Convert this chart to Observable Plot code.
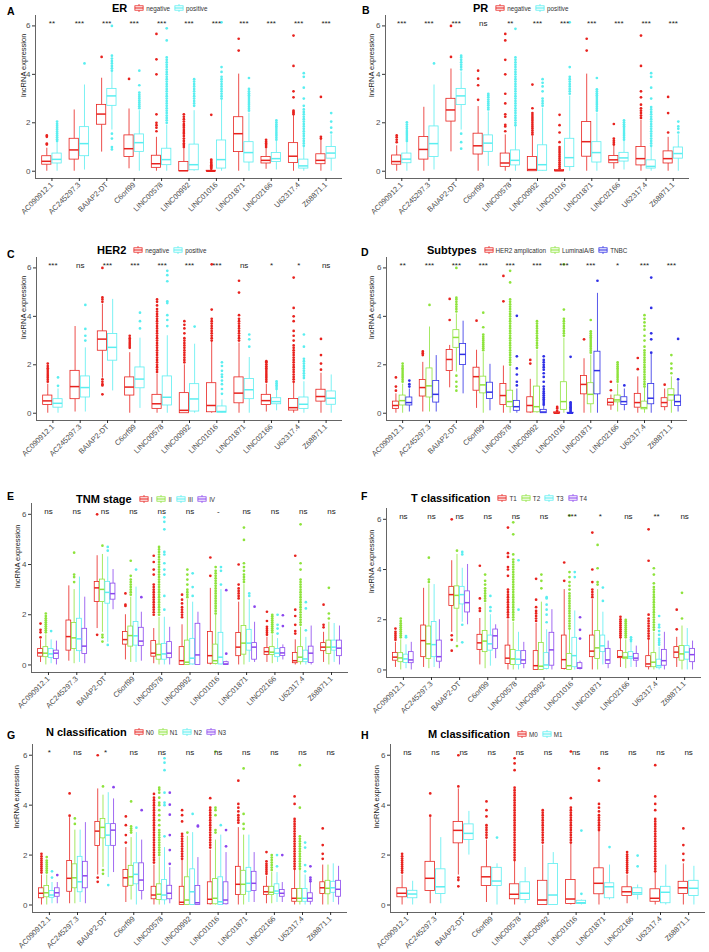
<!DOCTYPE html>
<html><head><meta charset="utf-8">
<script src="https://cdn.jsdelivr.net/npm/d3@7"></script>
<script src="https://cdn.jsdelivr.net/npm/@observablehq/plot@0.6"></script>
<style>
body{margin:0;background:#fff;font-family:"Liberation Sans",Arial,sans-serif;}
#fig{position:relative;width:709px;height:952px;overflow:hidden;background:#fff;}
.pw{position:absolute;}
.letter{position:absolute;font-weight:bold;font-size:10.5px;line-height:1;color:#000;}
.hdr{position:absolute;display:flex;align-items:center;height:12px;white-space:nowrap;}
.ttl{font-weight:bold;font-size:11px;color:#000;margin-right:7px;}
.key{display:flex;align-items:center;margin-right:4px;font-size:6.3px;color:#333;}
.key svg{margin-right:2px;}
</style></head>
<body><div id="fig"></div>
<script>
const genes = ["AC090912.1","AC245297.3","BAIAP2-DT","C6orf99","LINC00578","LINC00992","LINC01016","LINC01871","LINC02166","U62317.4","Z68871.1"];
const yTicks = [0, 2, 4, 6];

// each row: [lower whisker, Q1, median, Q3, upper whisker]
// ---- A: ER
const erNeg = [[0,0.27,0.41,0.62,0.95],[0,0.48,0.88,1.34,2.53],[0.79,1.92,2.36,2.74,3.84],[0.1,0.59,0.93,1.48,2.57],[0,0.14,0.31,0.64,1.4],[0,0,0.02,0.38,0.95],[0,0,0,0.02,0.05],[0,0.79,1.55,2.23,4.01],[0.08,0.32,0.45,0.59,0.95],[0,0.34,0.62,1.16,2.3],[0,0.29,0.45,0.7,1.3]];
const erNegOut = [[1.1,1.14,1.42,1.48],[],[4.72],[3.81],[1.65,1.8,1.9,2.0,2.35,4.0,4.62,5.67],[1.0,1.08,1.15,1.25,1.35,1.45,1.55,1.62,1.7,1.8,1.88,1.95,2.05,2.15,2.25,2.35],[0.1,0.15,0.2,0.25,0.3,0.36,0.42,0.48,2.33],[4.98,5.47],[1.0,1.08,1.15,1.22,1.3],[2.35,2.4,2.45,2.5,3.05,3.3,4.35,5.6],[1.35,1.42,3.07]];
const erPos = [[0,0.32,0.49,0.73,1.2],[0.05,0.62,1.14,1.82,3.56],[1.7,2.7,3.11,3.4,4.08],[0,0.8,1.18,1.52,2.5],[0,0.25,0.48,0.93,1.9],[0,0.04,0.27,1.1,2.5],[0,0.11,0.48,1.27,2.95],[0,0.36,0.77,1.2,2.4],[0.05,0.38,0.52,0.75,1.25],[0,0.11,0.22,0.48,1.0],[0,0.52,0.75,1.0,1.5]];
const erPosOut = [[1.25,1.32,1.4,1.48,1.56,1.64,1.72,1.8,1.88,1.96,2.05],[4.45],[4.15,4.25,4.35,4.45,4.55,4.65,4.77,6.0,1.55,1.35,1.0,0.9],[2.6,2.68,2.76,2.84,2.92,3.0,3.08,3.16,3.25,3.55,4.15],[2.0,2.1,2.2,2.3,2.4,2.5,2.6,2.7,2.8,2.9,3.0,3.1,3.2,3.3,3.4,3.5,3.6,3.7,3.8,3.9,4.0,4.1,4.2,4.3,4.4,4.5,4.6,4.7,5.4,5.9],[2.7,2.8,2.9,3.0,3.1,3.2,3.3,3.4,3.5,3.6,3.7,3.8],[3.0,3.1,3.2,3.3,3.4,3.5,3.6,3.7,3.8,3.9,4.1,4.3,6.15],[2.5,2.58,2.66,2.74,2.82,2.9,2.98,3.06,3.14,3.22,3.3,3.4,3.85],[1.3,1.38,1.46,1.54,1.62,1.7,1.78,1.86,1.94,2.02,2.1],[1.05,1.15,1.25,1.35,1.45,1.55,1.65,1.75,1.85,1.95,2.05,2.15,2.25,2.35,2.45,2.55,2.7,3.0,3.45,3.9,4.05],[1.6,1.8,2.05,2.4]];
const sigA = ["**","***","***","***","***","***","***","***","***","***","***"];

// ---- B: PR
const prNeg = [[0,0.27,0.4,0.65,1.05],[0,0.48,0.9,1.41,2.64],[0.8,2.05,2.53,2.99,4.22],[0,0.69,1.05,1.55,2.67],[0,0.18,0.34,0.73,1.5],[0,0,0.07,0.59,1.45],[0,0,0.02,0.05,0.1],[0,0.6,1.22,2.03,4.01],[0.08,0.33,0.47,0.63,1.05],[0,0.24,0.52,1.0,2.1],[0,0.32,0.52,0.82,1.4]];
const prNegOut = [[1.2,1.3,1.4,1.48],[],[4.72,6.0],[2.95,3.55,3.82,4.15],[1.65,1.85,1.92,2.25,2.35,2.8,3.2,4.0,4.6,5.4,5.67],[1.52,1.6,1.68,1.76,1.84,1.92,2.0,2.08,2.16,2.24,2.32,2.4,2.6,3.58],[0.12,0.2,0.28,0.36,0.44,0.52,0.6,0.68,0.76,0.84,0.92,1.0,1.2,1.6,1.9,2.33],[4.98,5.47],[1.1,1.18,1.26,1.35,1.95],[2.2,2.3,2.4,2.5,2.6,2.75,3.05,3.3,4.35,5.6],[1.6,2.4,3.07]];
const prPos = [[0,0.33,0.5,0.73,1.2],[0.05,0.59,1.14,1.85,3.56],[1.7,2.73,3.11,3.4,4.1],[0.2,0.8,1.16,1.48,2.45],[0,0.24,0.45,0.86,1.85],[0,0.02,0.27,1.07,2.6],[0,0.17,0.56,1.34,3.1],[0,0.36,0.77,1.2,2.4],[0.05,0.4,0.55,0.76,1.25],[0,0.11,0.2,0.45,1.0],[0,0.52,0.73,0.98,1.5]];
const prPosOut = [[1.25,1.33,1.41,1.5,1.58,1.66,1.75,1.84,1.93,2.02],[4.45],[4.2,4.3,4.4,4.5,4.6,4.7,4.77,1.55,1.2,0.93],[2.55,2.63,2.72,2.8,2.88,2.96,3.05,3.13,3.2],[1.9,2.0,2.1,2.2,2.3,2.4,2.5,2.6,2.7,2.8,2.9,3.0,3.1,3.2,3.3,3.4,3.5,3.6,3.7,3.8,3.9,4.0,4.1,4.2,4.3,4.4,4.5,4.6,4.7,5.88],[2.7,2.8,2.9,3.0,3.3,3.5,3.65,3.8],[3.2,3.3,3.4,3.5,3.6,3.7,3.8,3.9,4.3,6.15],[2.5,2.58,2.66,2.74,2.82,2.9,2.98,3.06,3.14,3.22,3.3,3.38,3.85],[1.3,1.38,1.46,1.54,1.62,1.7,1.78,1.86,1.94,2.02,2.1],[1.05,1.15,1.25,1.35,1.45,1.55,1.65,1.75,1.85,1.95,2.05,2.15,2.25,2.35,2.45,2.55,2.65,3.0,3.45,3.9,4.05],[1.6,1.75,1.85,2.05]];
const sigB = ["***","***","***","ns","**","***","***","***","***","***","***"];

// ---- C: HER2
const her2Neg = [[0,0.34,0.51,0.73,1.2],[0.05,0.58,1.1,1.75,3.58],[1.45,2.58,3.06,3.38,4.5],[0,0.73,1.08,1.48,2.5],[0,0.18,0.39,0.76,1.6],[0,0,0.12,0.83,2.0],[0,0.04,0.32,1.24,2.95],[0,0.41,0.83,1.48,2.9],[0.05,0.34,0.52,0.76,1.2],[0,0.11,0.23,0.59,1.25],[0,0.48,0.69,0.97,1.65]];
const her2NegOut = [[1.3,1.38,1.46,1.54,1.62,1.7,1.78,1.86,1.95,2.05],[],[4.6,4.7,4.78,6.0,1.4,1.3,1.2,1.15,0.78],[2.7,2.78,2.86,2.94,3.02,3.1,3.2],[1.7,1.8,1.9,2.0,2.1,2.2,2.3,2.4,2.5,2.6,2.7,2.8,2.9,3.0,3.1,3.2,3.3,3.4,3.5,3.6,3.7,3.8,3.9,4.0,4.1,4.2,4.3,4.45,4.6,4.7],[2.1,2.2,2.3,2.4,2.5,2.6,2.7,2.8,2.9,3.0,3.1,3.3,3.5,3.65,3.8],[3.0,3.1,3.2,3.3,3.4,3.5,3.6,3.7,3.8,3.9,4.28,6.15],[3.0,3.1,3.2,3.3,3.4,3.5,3.6,3.7,3.8,3.9,4.05,4.98,5.47],[1.3,1.38,1.46,1.54,1.62,1.7,1.78,1.86,1.94,2.02,2.1,2.15],[1.3,1.4,1.5,1.6,1.7,1.8,1.9,2.0,2.1,2.2,2.3,2.4,2.5,2.6,2.7,2.8,3.0,3.2,3.4,3.8,4.0,4.35,5.6],[1.8,2.05,2.4,3.07]];
const her2Pos = [[0,0.23,0.41,0.58,1.0],[0.05,0.65,1.06,1.52,2.7],[0.92,2.17,2.72,3.27,4.7],[0.2,1.03,1.41,1.89,3.1],[0,0.32,0.66,1.52,3.2],[0,0.07,0.59,1.2,2.85],[0,0.02,0.07,0.28,0.55],[0,0.58,0.97,1.41,2.3],[0.1,0.37,0.48,0.62,0.95],[0,0.18,0.37,0.65,1.3],[0,0.35,0.62,0.9,1.58]];
const her2PosOut = [[1.13,1.48],[3.0,3.2,3.48,4.47],[],[3.5,3.8,4.15],[3.6,3.85,4.05,4.55,4.62,5.45,5.7,5.88],[3.58],[0.8,1.0,1.2,1.35,1.5,1.6,1.75,1.95,2.1],[2.75,3.05,3.25],[1.0,1.08,1.16,1.24,1.32],[1.45,1.55,1.65,1.75,1.85,1.95,2.05,2.15,2.25,2.75,3.25],[]];
const sigC = ["***","ns","***","***","***","***","***","ns","*","*","ns"];

// ---- D: Subtypes
const subHer2 = [[0,0.18,0.32,0.48,0.8],[0.05,0.69,1.06,1.37,2.1],[1.05,1.74,2.22,2.61,2.8],[0.2,0.93,1.51,1.88,2.6],[0,0.34,0.73,1.21,1.95],[0,0.03,0.32,0.66,1.4],[0,0,0,0.04,0.05],[0,0.78,1.19,1.54,2.25],[0.12,0.32,0.45,0.58,0.75],[0,0.23,0.44,0.8,1.5],[0.1,0.25,0.44,0.62,1.0]];
const subHer2Out = [[0.93,1.1,1.48],[2.4,2.48,2.55],[3.85,4.72],[3.82],[4.62,5.67],[2.05,2.2],[0.1,0.2,0.26],[3.05],[0.95,1.3],[1.82,2.28],[1.18]];
const subLum = [[0,0.32,0.52,0.73,1.2],[0.05,0.65,1.13,1.85,3.56],[1.7,2.7,3.13,3.43,4.1],[0,0.82,1.17,1.51,2.5],[0,0.25,0.48,0.93,1.9],[0,0.04,0.27,1.1,2.6],[0,0.14,0.48,1.28,3.1],[0,0.37,0.78,1.24,2.4],[0.05,0.45,0.55,0.73,1.2],[0,0.16,0.23,0.48,1.05],[0,0.52,0.76,0.99,1.5]];
const subLumOut = [[1.3,1.38,1.46,1.54,1.62,1.7,1.78,1.86,1.95,2.05],[4.47],[4.2,4.3,4.4,4.5,4.6,4.7,4.77,6.0,1.55,1.3,1.1,0.93],[2.6,2.68,2.76,2.84,2.92,3.0,3.08,3.16,3.25,3.55,4.15],[2.0,2.1,2.2,2.3,2.4,2.5,2.6,2.7,2.8,2.9,3.0,3.1,3.2,3.3,3.4,3.5,3.6,3.7,3.8,3.9,4.0,4.1,4.2,4.3,4.4,4.5,4.6,4.7,5.4,5.88],[2.7,2.8,2.9,3.0,3.1,3.2,3.3,3.4,3.5,3.6,3.7,3.8],[3.2,3.3,3.4,3.5,3.6,3.7,3.8,3.9,4.28,6.15],[2.5,2.58,2.66,2.74,2.82,2.9,2.98,3.06,3.14,3.22,3.3,3.38,3.85],[1.3,1.38,1.46,1.54,1.62,1.7,1.78,1.86,1.94,2.02,2.1],[1.1,1.2,1.3,1.4,1.5,1.6,1.7,1.8,1.9,2.0,2.1,2.2,2.3,2.4,2.5,2.6,2.75,3.0,3.2,3.45,3.6,3.75,3.9,4.05],[1.65,1.85,2.05,2.4]];
const subTnbc = [[0.05,0.32,0.44,0.65,1.0],[0.05,0.44,0.78,1.33,2.38],[0.8,1.99,2.43,2.86,3.8],[0.1,0.59,0.87,1.26,2.02],[0,0.1,0.27,0.51,1.0],[0,0,0.05,0.14,0.3],[0,0,0,0.02,0.04],[0,0.78,1.76,2.54,4.95],[0.1,0.34,0.48,0.66,1.0],[0,0.37,0.62,1.21,2.45],[0.05,0.3,0.48,0.73,1.3]];
const subTnbcOut = [[1.1,1.2,1.35],[],[],[],[1.15,1.3,1.6,1.85,2.35,4.02],[0.35,0.42,0.5,0.58,0.66,0.74,0.82,0.9,1.0,1.1,1.3,1.5,1.65,1.8,1.9,2.0,2.1,2.2,2.35],[0.05,0.1,0.15,0.2,0.25,0.3,0.35,0.4,0.45,2.33],[5.47],[1.15],[2.5,3.05,3.3,4.35,5.6],[1.4,3.07]];
const sigD = ["**","***","***","***","***","***","***","***","*","***","***"];

// ---- E: TNM stage
const tnmI = [[0.1,0.33,0.48,0.64,1.0],[0.15,0.57,1.13,1.77,3.15],[1.45,2.51,3.07,3.3,4.35],[0.2,0.81,1.01,1.31,2.0],[0.05,0.33,0.47,0.95,1.45],[0,0,0.17,0.71,1.6],[0,0.05,0.37,1.31,3.05],[0,0.35,0.71,1.27,2.5],[0.1,0.4,0.53,0.67,1.1],[0,0.07,0.17,0.48,1.0],[0.1,0.55,0.71,0.87,1.3]];
const tnmIOut = [[1.1,1.3,1.4,1.65],[],[1.2,6.0],[2.35,2.4,2.85],[2.0,2.1,2.2,2.3,2.4,2.5,2.6,2.7,2.8,2.9,3.0,3.1,3.2,3.6,3.8,4.1,4.35],[1.9,2.0,2.1,2.2,2.3,2.45,2.6,2.8],[3.55,4.28],[2.65,2.75,2.85,2.95,3.05,3.2,4.0],[1.2,1.28,1.36,1.44,1.52,1.75,2.12],[1.25,1.35,1.6,1.95,2.2,4.35],[1.5,1.6,2.4]];
const tnmII = [[0,0.31,0.47,0.71,1.2],[0.05,0.64,1.08,1.67,3.0],[1.3,2.51,3.01,3.4,4.4],[0.1,0.73,1.17,1.53,2.7],[0,0.21,0.41,0.81,1.9],[0,0,0.11,0.97,2.6],[0,0.04,0.17,0.81,2.0],[0,0.41,0.87,1.55,3.2],[0.05,0.4,0.51,0.71,1.2],[0,0.11,0.31,0.71,1.5],[0,0.44,0.71,0.97,1.7]];
const tnmIIOut = [[1.3,1.38,1.46,1.54,1.62,1.7,1.78,1.86,1.95,2.05],[3.3,3.5,3.6,4.47],[4.75,1.2,1.1,0.93],[2.8,2.9,3.0,3.1,3.2,3.3,3.4,3.55,4.15],[2.0,2.1,2.2,2.3,2.4,2.5,2.6,2.7,2.8,2.9,3.0,3.1,3.2,3.3,3.4,3.5,3.6,3.7,3.8,3.9,4.0,4.1,4.2,4.3,4.4,4.5,4.6,4.7],[2.7,2.8,2.9,3.0,3.2,3.4,3.6,3.8],[2.05,2.15,2.25,2.35,2.45,2.55,2.65,2.75,2.85,2.95,3.05,3.15,3.25,3.35,3.45,3.55,3.65,3.75,3.9],[3.3,3.4,3.5,3.6,3.75,3.9,4.05,4.98,5.47],[1.3,1.38,1.46,1.54,1.62,1.7,1.78,1.86,1.94,2.0],[1.6,1.7,1.8,1.9,2.0,2.1,2.2,2.3,2.4,2.5,2.6,2.7,2.8,2.9,3.0,3.1,3.2,3.3,3.4,3.8,4.05,5.6],[1.85,2.05,3.07]];
const tnmIII = [[0.05,0.28,0.44,0.64,1.0],[0.1,0.55,1.04,1.84,3.5],[0.9,2.44,2.89,3.31,4.3],[0.1,0.77,1.16,1.71,3.1],[0,0.21,0.44,0.84,1.9],[0,0.02,0.27,1.04,2.5],[0,0.02,0.31,1.28,3.0],[0.1,0.57,0.87,1.4,2.6],[0.1,0.31,0.47,0.64,1.05],[0,0.11,0.24,0.57,1.1],[0.1,0.57,0.71,0.97,1.65]];
const tnmIIIOut = [[1.35],[],[4.55,4.7,0.8],[3.8],[2.2,2.75,3.6,3.8,4.05,4.4,4.5,5.4,5.7,5.88],[2.75,3.1,3.65],[3.2,3.75,3.9],[2.75,2.85],[1.25,1.45,1.6,2.0],[1.38,2.25,2.5],[]];
const tnmIV = [[0,0.24,0.47,0.57,0.95],[0.05,0.44,0.75,1.44,2.7],[2.2,2.6,2.84,3.24,3.8],[0.15,0.75,0.95,1.48,2.1],[0,0.27,0.47,0.91,1.5],[0,0,0.4,1.64,2.1],[0,0,0.04,0.11,0.15],[0.1,0.21,0.71,0.87,1.7],[0.2,0.36,0.48,0.67,0.8],[0,0.08,0.47,0.73,1.55],[0,0.35,0.67,0.97,1.55]];
const tnmIVOut = [[],[],[],[2.7],[],[],[0.45,2.98],[2.32],[1.55,1.98],[],[]];
const sigE = ["ns","ns","ns","ns","ns","ns","-","ns","ns","ns","ns"];

// ---- F: T classification
const tT1 = [[0.1,0.37,0.51,0.68,1.1],[0.1,0.51,1.17,1.77,3.25],[1.5,2.55,3.0,3.31,4.35],[0.2,0.8,1.08,1.4,2.05],[0,0.24,0.47,0.97,2.0],[0,0,0.17,0.75,1.85],[0,0.04,0.41,1.37,3.2],[0,0.51,0.75,1.37,2.8],[0.1,0.47,0.53,0.75,1.25],[0,0.11,0.24,0.55,1.2],[0.1,0.47,0.71,0.91,1.3]];
const tT1Out = [[1.2,1.28,1.36,1.44,1.52,1.65],[],[1.38,1.2,0.77,6.0],[2.35,2.45,2.85,4.15],[2.1,2.2,2.3,2.4,2.5,2.6,2.7,2.8,2.9,3.0,3.1,3.2,3.75,4.0,4.1,4.5,4.65,5.67],[1.95,2.05,2.15,2.25,2.35,2.5,2.8,3.63],[3.55,4.28],[2.9,3.0,3.1,3.2,3.5,4.0,5.47],[1.3,1.38,1.46,1.54,1.62,1.7,1.78,1.86,1.94,2.02,2.12],[1.25,1.35,1.45,1.55,1.65,1.75,1.85,1.95,2.05,2.2,4.35,5.6],[1.62,2.4]];
const tT2 = [[0,0.31,0.48,0.67,1.2],[0.05,0.44,1.04,1.73,3.4],[1.1,2.44,2.97,3.33,4.6],[0.05,0.71,1.15,1.55,2.65],[0,0.2,0.44,0.8,1.9],[0,0,0.15,1.07,2.7],[0,0,0.17,0.64,1.6],[0,0.44,0.88,1.55,3.2],[0.05,0.43,0.51,0.67,1.2],[0,0.11,0.31,0.67,1.5],[0,0.37,0.64,0.95,1.75]];
const tT2Out = [[1.3,1.38,1.46,1.54,1.62,1.7,1.78,1.86,1.95,2.05],[3.5,3.6,4.47],[4.75,0.95],[2.75,2.85,2.95,3.05,3.15,3.25,3.4,3.55,3.8],[2.0,2.1,2.2,2.3,2.4,2.5,2.6,2.7,2.8,2.9,3.0,3.1,3.2,3.3,3.4,3.5,3.6,3.7,3.8,3.9,4.0,4.1,4.2,4.3,4.4,4.6,5.4,5.88],[3.25,3.55,3.8],[1.65,1.75,1.85,1.95,2.05,2.15,2.25,2.35,2.45,2.55,2.65,2.75,2.85,2.95,3.05,3.2,3.35,3.5,3.7,3.9,6.15],[3.4,3.5,4.05,4.98],[1.3,1.38,1.46,1.54,1.62,1.7,1.78,1.86,1.94,2.0],[1.6,1.7,1.8,1.9,2.0,2.1,2.2,2.3,2.4,2.5,2.6,2.7,2.8,2.9,3.0,3.1,3.2,3.3,3.45,3.8,4.05],[2.05,3.07]];
const tT3 = [[0.05,0.28,0.44,0.61,1.0],[0.1,0.51,1.01,1.91,3.4],[1.9,2.61,3.0,3.31,4.05],[0.15,0.77,1.04,1.37,2.2],[0,0.2,0.43,0.75,1.5],[0,0.04,0.2,0.67,1.6],[0,0.11,0.57,1.28,2.35],[0.2,0.71,0.96,1.37,2.3],[0.1,0.44,0.53,0.71,1.1],[0,0.07,0.17,0.41,0.9],[0,0.41,0.71,0.95,1.65]];
const tT3Out = [[1.3,1.35],[],[4.6,4.7,1.8,1.1],[2.35,2.5,2.95],[2.4,4.37],[1.9,2.2,2.4,2.6,2.85,2.9],[3.7,3.9],[2.75,3.28],[1.15,1.22,1.3],[1.0,1.08,1.16,1.24,1.4,1.55,1.7,1.8,2.15],[]];
const tT4 = [[0,0.27,0.4,0.71,1.1],[0.05,0.33,0.53,1.17,2.0],[1.8,2.29,2.68,3.13,4.2],[0.45,0.84,1.36,1.61,1.8],[0.05,0.24,0.4,0.75,1.1],[0,0.17,0.8,1.48,2.4],[0,0.04,0.08,0.27,0.35],[0.05,0.24,0.4,0.84,1.15],[0.1,0.37,0.47,0.64,0.95],[0,0.17,0.37,0.8,1.5],[0,0.31,0.61,0.84,1.15]];
const tT4Out = [[],[],[],[],[],[],[1.25,1.6,2.1],[],[],[],[]];
const sigF = ["ns","ns","ns","ns","ns","ns","***","*","ns","**","ns"];

// ---- G: N classification
const nN0 = [[0,0.27,0.47,0.67,1.2],[0.05,0.53,1.07,1.76,3.5],[1.2,2.36,2.96,3.33,4.65],[0.1,0.73,1.09,1.4,2.3],[0,0.23,0.4,0.73,1.6],[0,0,0.11,0.73,1.8],[0,0.03,0.23,0.91,2.2],[0,0.4,0.83,1.53,3.1],[0.05,0.4,0.53,0.73,1.15],[0,0.13,0.27,0.64,1.4],[0,0.44,0.69,0.91,1.6]];
const nN0Out = [[1.3,1.38,1.46,1.54,1.62,1.7,1.78,1.86,1.95,2.05],[3.58,4.47],[1.1,0.93,6.0],[2.5,2.8,3.2,3.55],[1.7,1.8,1.9,2.0,2.1,2.2,2.3,2.4,2.5,2.6,2.7,2.8,2.9,3.0,3.1,3.2,3.3,3.4,3.5,3.6,3.7,3.8,3.9,4.0,4.1,4.2,4.3,4.45],[1.85,1.95,2.05,2.15,2.25,2.35,2.45,2.55,2.65,2.75,2.85,3.35,3.6,3.8],[2.3,2.4,2.5,2.6,2.7,2.8,2.9,3.0,3.1,3.2,3.3,3.4,3.5,3.6,3.7,3.8,3.9,4.28],[3.3,3.4,3.5,3.6,3.75,3.9,4.05,4.98],[1.25,1.33,1.41,1.49,1.57,1.65,1.75,2.12],[1.45,1.55,1.65,1.75,1.85,1.95,2.05,2.15,2.25,2.35,2.45,2.55,2.65,2.75,2.85,2.95,3.05,3.15,3.25,3.35,3.45,4.05,4.35],[1.85,2.05,2.4,3.07]];
const nN1 = [[0,0.31,0.49,0.76,1.2],[0.05,0.67,1.09,1.63,3.0],[1.5,2.67,3.11,3.45,4.4],[0.2,0.77,1.13,1.57,2.7],[0,0.2,0.43,0.83,1.9],[0,0,0.2,1.11,2.75],[0,0.03,0.27,1.04,2.6],[0,0.4,0.83,1.37,2.8],[0.05,0.4,0.51,0.73,1.3],[0,0.13,0.27,0.64,1.4],[0,0.43,0.67,0.97,1.6]];
const nN1Out = [[1.3,1.38,1.46,1.54,1.62,1.7,1.78,1.92],[3.25,3.47],[4.75,1.4,1.25],[2.9,2.98,3.06,3.15,4.15],[2.0,2.1,2.2,2.3,2.4,2.5,2.6,2.7,2.8,2.9,3.0,3.2,3.4,3.6,3.8,4.0,4.1,4.3,4.5,4.62,4.7],[2.9],[2.9,3.0,3.6,3.8,3.9,6.15],[3.05,3.25,3.65,5.47],[1.4,1.5,1.6,1.7,1.8,1.9,2.0],[1.45,1.55,1.65,1.75,1.85,1.95,2.05,2.15,2.25,2.35,2.45,2.55,2.65,2.75,3.9,5.6],[]];
const nN2 = [[0.05,0.29,0.4,0.56,0.9],[0.1,0.51,0.93,1.93,3.0],[1.1,2.37,2.8,3.24,4.5],[0,0.83,1.23,1.67,2.9],[0,0.19,0.4,1.0,2.3],[0,0,0.53,1.43,2.9],[0,0,0.13,1.11,2.8],[0.1,0.53,0.87,1.49,2.8],[0.1,0.44,0.56,0.83,1.3],[0,0.13,0.27,0.64,1.2],[0.1,0.49,0.69,0.93,1.65]];
const nN2Out = [[1.1,1.35],[],[0.8],[3.1],[2.75,4.0,4.1,4.5,5.4,5.7,5.88],[3.65],[3.2],[],[1.55,2.0],[1.35,1.6,2.3,2.5],[]];
const nN3 = [[0.05,0.33,0.49,0.67,0.9],[0.05,0.67,1.17,1.73,3.3],[1.3,2.37,3.0,3.24,4.25],[0.2,0.56,1.0,1.67,2.6],[0.05,0.23,0.47,0.77,1.5],[0,0,0.09,0.76,1.9],[0,0.03,0.2,0.91,2.1],[0.1,0.56,0.87,1.33,2.1],[0.1,0.33,0.47,0.6,0.9],[0,0.13,0.27,0.47,0.9],[0,0.33,0.63,0.97,1.55]];
const nN3Out = [[1.2],[],[4.72],[3.8],[1.65,2.2,2.8,3.62,4.02,4.5],[3.15,3.18],[2.35,3.0],[],[2.0],[0.95,1.02,1.1,1.55],[]];
const sigG = ["*","ns","*","ns","ns","ns","ns","ns","ns","ns","ns"];

// ---- H: M classification
const mM0 = [[0,0.31,0.47,0.67,1.2],[0.05,0.56,1.07,1.73,3.5],[1.2,2.47,2.99,3.33,4.65],[0.1,0.76,1.13,1.51,2.6],[0,0.23,0.43,0.83,1.75],[0,0,0.2,0.97,2.4],[0,0.04,0.24,1.0,2.45],[0,0.43,0.87,1.47,2.95],[0.05,0.36,0.53,0.71,1.2],[0,0.13,0.27,0.63,1.3],[0,0.44,0.69,0.93,1.65]];
const mM0Out = [[1.3,1.38,1.46,1.54,1.62,1.7,1.78,1.86,1.95,2.05],[3.58,4.47],[4.75,6.0,1.1,1.0,0.75],[2.7,2.8,2.9,3.0,3.1,3.2,3.55,3.8,4.15],[1.8,1.9,2.0,2.1,2.2,2.3,2.4,2.5,2.6,2.7,2.8,2.9,3.0,3.1,3.2,3.3,3.4,3.5,3.6,3.7,3.8,3.9,4.0,4.1,4.2,4.3,4.4,4.5,4.6,4.7,5.4,5.67,5.88],[2.5,2.6,2.7,2.8,2.9,3.0,3.1,3.2,3.3,3.4,3.5,3.6,3.7,3.8],[2.5,2.6,2.7,2.8,2.9,3.0,3.1,3.2,3.3,3.4,3.5,3.6,3.7,3.8,3.9,4.28,6.15],[3.0,3.1,3.2,3.3,3.4,3.5,3.6,3.75,3.9,4.05,4.98,5.47],[1.3,1.38,1.46,1.54,1.62,1.7,1.78,1.86,1.94,2.02,2.12],[1.35,1.45,1.55,1.65,1.75,1.85,1.95,2.05,2.15,2.25,2.35,2.45,2.55,2.65,2.75,2.85,2.95,3.05,3.15,3.25,3.35,3.45,3.8,4.05,4.35,5.6],[1.8,2.05,2.4,3.07]];
const mM1 = [[0,0.27,0.44,0.57,0.95],[0.05,0.44,0.73,1.43,2.7],[2.0,2.6,2.87,3.23,3.75],[0,0.76,0.96,1.49,1.65],[0.05,0.2,0.47,0.91,1.5],[0,0,0.4,1.64,2.1],[0,0.04,0.09,0.17,0.2],[0.2,0.27,0.73,0.87,1.6],[0.2,0.4,0.49,0.67,0.8],[0,0.07,0.51,0.73,1.6],[0,0.36,0.67,0.97,1.55]];
const mM1Out = [[],[],[],[2.7],[],[],[0.45,2.98],[2.32],[1.55,1.98],[],[]];
const sigH = ["ns","ns","ns","ns","ns","ns","ns","ns","ns","ns","ns"];

// ---------- styles / layout ----------
const RED = "#E8221E", CYAN = "#5AEEF0", GREEN = "#8EE33C", BLUE = "#2F2FE6", PURPLE = "#8A45EE";
const FONT = "'Liberation Sans', Arial, sans-serif";

const panels = [
  {letter:"A", title:"ER", labels:["negative","positive"], colors:[RED,CYAN], stats:[erNeg,erPos], outs:[erNegOut,erPosOut], sig:sigA,
   L:{left:0,top:0,w:354,h:232,ml:35,mr:12,mt:15,mb:54,ydx:-12,lx:7,ly:7,hx:112,hy:8}},
  {letter:"B", title:"PR", labels:["negative","positive"], colors:[RED,CYAN], stats:[prNeg,prPos], outs:[prNegOut,prPosOut], sig:sigB,
   L:{left:354,top:0,w:355,h:232,ml:31,mr:20,mt:15,mb:54,ydx:-14,lx:362,ly:6,hx:473,hy:8}},
  {letter:"C", title:"HER2", labels:["negative","positive"], colors:[RED,CYAN], stats:[her2Neg,her2Pos], outs:[her2NegOut,her2PosOut], sig:sigC,
   L:{left:0,top:235,w:354,h:232,ml:36,mr:12,mt:22,mb:47,ydx:-13,lx:7,ly:250,hx:97,hy:250}},
  {letter:"D", title:"Subtypes", labels:["HER2 amplication","LuminalA/B","TNBC"], colors:[RED,GREEN,BLUE], stats:[subHer2,subLum,subTnbc], outs:[subHer2Out,subLumOut,subTnbcOut], sig:sigD,
   L:{left:354,top:235,w:355,h:232,ml:32,mr:22,mt:22,mb:47,ydx:-15,lx:361,ly:248,hx:427,hy:250}},
  {letter:"E", title:"TNM stage", labels:["I","II","III","IV"], colors:[RED,GREEN,CYAN,PURPLE], stats:[tnmI,tnmII,tnmIII,tnmIV], outs:[tnmIOut,tnmIIOut,tnmIIIOut,tnmIVOut], sig:sigE,
   L:{left:0,top:480,w:354,h:232,ml:31,mr:6,mt:23,mb:40,ydx:-14,lx:7,ly:492,hx:76,hy:499}},
  {letter:"F", title:"T classification", labels:["T1","T2","T3","T4"], colors:[RED,GREEN,CYAN,PURPLE], stats:[tT1,tT2,tT3,tT4], outs:[tT1Out,tT2Out,tT3Out,tT4Out], sig:sigF,
   L:{left:354,top:480,w:355,h:232,ml:32,mr:8,mt:28,mb:35,ydx:-15,lx:361,ly:492,hx:411,hy:498}},
  {letter:"G", title:"N classification", labels:["N0","N1","N2","N3"], colors:[RED,GREEN,CYAN,PURPLE], stats:[nN0,nN1,nN2,nN3], outs:[nN0Out,nN1Out,nN2Out,nN3Out], sig:sigG,
   L:{left:0,top:715,w:354,h:237,ml:32,mr:7,mt:29,mb:40,ydx:-16,lx:7,ly:731,hx:46,hy:732}},
  {letter:"H", title:"M classification", labels:["M0","M1"], colors:[RED,CYAN], stats:[mM0,mM1], outs:[mM0Out,mM1Out], sig:sigH,
   L:{left:354,top:715,w:355,h:237,ml:36,mr:4,mt:29,mb:40,ydx:-14,lx:361,ly:731,hx:428,hy:734}}
];

const fig = document.getElementById("fig");
const tickVals = genes.map((g, i) => i + 1);

function keySvg(color) {
  return `<svg width="10" height="8" viewBox="0 0 10 8"><line x1="5" y1="0" x2="5" y2="1.8" stroke="${color}" stroke-width="0.8"/><line x1="5" y1="6.2" x2="5" y2="8" stroke="${color}" stroke-width="0.8"/><rect x="0.9" y="1.8" width="8.2" height="4.4" fill="white" stroke="${color}" stroke-width="0.8"/><line x1="0.9" y1="4" x2="9.1" y2="4" stroke="${color}" stroke-width="1.1"/></svg>`;
}

for (const p of panels) {
  const L = p.L;
  const n = p.stats.length, slot = 0.75 / n;
  const boxes = [], outs = [];
  p.stats.forEach((st, gi) => st.forEach((s, i) => {
    const xc = i + 1 - 0.375 + (gi + 0.5) * slot;
    boxes.push({xc, x1: xc - slot * 0.45, x2: xc + slot * 0.45, lo: s[0], q1: s[1], med: s[2], q3: s[3], hi: s[4], c: p.colors[gi]});
    p.outs[gi][i].forEach(v => outs.push({xc, v, c: p.colors[gi]}));
  }));
  const sigData = p.sig.map((s, i) => ({x: i + 1, y: 6.1, s}));

  const svg = Plot.plot({
    width: L.w, height: L.h,
    marginLeft: L.ml, marginRight: L.mr, marginTop: L.mt, marginBottom: L.mb,
    style: {fontFamily: FONT, background: "transparent", overflow: "visible"},
    x: {type: "linear", domain: [0.4, 11.6]},
    y: {domain: [-0.3, 6.43]},
    color: {type: "identity"},
    marks: [
      Plot.axisX({ticks: tickVals, tickFormat: d => genes[d - 1], tickRotate: -45, tickSize: 3, tickPadding: 2, fontSize: 7.5, fill: "#4d4d4d", stroke: "#333", label: null}),
      Plot.axisY({ticks: yTicks, tickFormat: d => String(d), tickSize: 3, tickPadding: 2, fontSize: 8, fill: "#4d4d4d", stroke: "#333", label: null}),
      Plot.ruleX(boxes, {x: "xc", y1: "lo", y2: "q1", stroke: "c", strokeWidth: 0.8}),
      Plot.ruleX(boxes, {x: "xc", y1: "q3", y2: "hi", stroke: "c", strokeWidth: 0.8}),
      Plot.rect(boxes, {x1: "x1", x2: "x2", y1: "q1", y2: "q3", fill: "white", stroke: "c", strokeWidth: 0.8}),
      Plot.ruleY(boxes, {y: "med", x1: "x1", x2: "x2", stroke: "c", strokeWidth: 1.5}),
      Plot.dot(outs, {x: "xc", y: "v", r: 1.35, fill: "c"}),
      Plot.text(sigData, {x: "x", y: "y", text: "s", fontSize: 8, fill: "#222"}),
      Plot.ruleX([0.4], {stroke: "#222", strokeWidth: 0.7}),
      Plot.ruleY([-0.3], {stroke: "#222", strokeWidth: 0.7}),
      Plot.text(["lncRNA expression"], {text: d => d, frameAnchor: "left", rotate: -90, dx: L.ydx, fontSize: 7.5, fill: "#1a1a1a"})
    ]
  });
  const wrap = document.createElement("div");
  wrap.className = "pw";
  wrap.style.left = L.left + "px";
  wrap.style.top = L.top + "px";
  wrap.appendChild(svg);
  fig.appendChild(wrap);

  const letter = document.createElement("div");
  letter.className = "letter";
  letter.textContent = p.letter;
  letter.style.left = L.lx + "px";
  letter.style.top = (L.ly - 1.5) + "px";
  fig.appendChild(letter);

  const hdr = document.createElement("div");
  hdr.className = "hdr";
  hdr.style.left = L.hx + "px";
  hdr.style.top = (L.hy - 6) + "px";
  let html = `<span class="ttl">${p.title}</span>`;
  p.labels.forEach((lab, i) => {
    html += `<span class="key">${keySvg(p.colors[i])}<span>${lab}</span></span>`;
  });
  hdr.innerHTML = html;
  fig.appendChild(hdr);
}
</script>
</body></html>
